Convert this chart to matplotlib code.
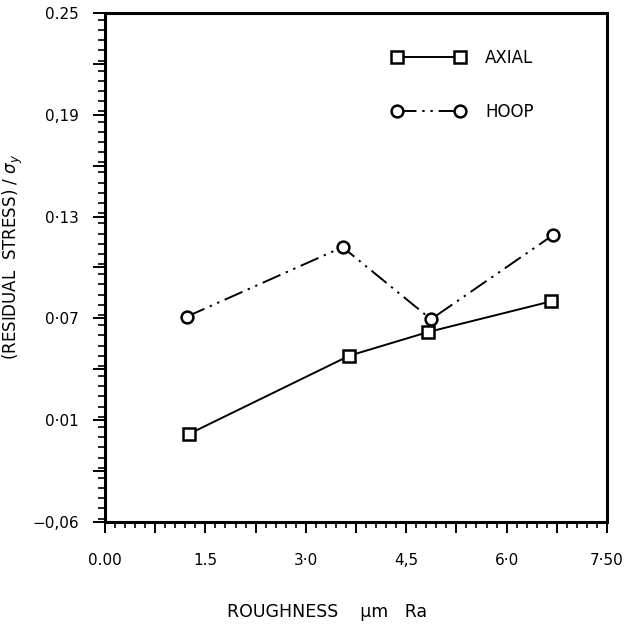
import numpy as np
import matplotlib
matplotlib.use("Agg")
import matplotlib.pyplot as plt
from matplotlib.ticker import FixedLocator, FixedFormatter, MultipleLocator

# ---- data ----
axial_x = [1.26, 3.65, 4.83, 6.66]
axial_y = [0.002, 0.048, 0.062, 0.080]
hoop_x = [1.22, 3.55, 4.87, 6.69]
hoop_y = [0.071, 0.112, 0.0695, 0.119]

xtick_values = [0.0, 1.5, 3.0, 4.5, 6.0, 7.5]
xtick_labels = ["0.00", "1.5", "3·0", "4,5", "6·0", "7·50"]
ytick_values = [-0.05, 0.01, 0.07, 0.13, 0.19, 0.25]
ytick_labels = ["\u22120,06", "0·01", "0·07", "0·13", "0,19", "0.25"]

plt.rcParams['font.family'] = ['DejaVu Sans']

fig = plt.figure(figsize=(6.36, 6.26), dpi=100)
ax = fig.add_axes([105/636, 1 - 522/626, 502/636, 509/626])

ms = 8.5
ax.plot(axial_x, axial_y, color='black', lw=1.4, ls='-', marker='s', ms=ms,
        mfc='white', mec='black', mew=1.8, label='AXIAL')
ax.plot(hoop_x, hoop_y, color='black', lw=1.4, ls=(0, (10, 3, 1.2, 3, 1.2, 3)),
        marker='o', ms=ms, mfc='white', mec='black', mew=1.8, label='HOOP')

ax.set_xlim(xtick_values[0], xtick_values[-1])
ax.set_ylim(ytick_values[0], ytick_values[-1])

# x ticks: long every 0.75, labels every 1.5, minor every 0.15
xmaj = np.arange(xtick_values[0], xtick_values[-1] + 1e-9, (xtick_values[1] - xtick_values[0]) / 2)
xlab = [xtick_labels[xtick_values.index(v)] if v in xtick_values else "" for v in np.round(xmaj, 4)]
ax.xaxis.set_major_locator(FixedLocator(xmaj))
ax.xaxis.set_major_formatter(FixedFormatter(xlab))
ax.xaxis.set_minor_locator(MultipleLocator((xtick_values[1] - xtick_values[0]) / 10))

ystep = ytick_values[1] - ytick_values[0]
ymaj = np.arange(ytick_values[0], ytick_values[-1] + 1e-9, ystep / 2)
ylab = []
for v in ymaj:
    m = [l for tv, l in zip(ytick_values, ytick_labels) if abs(tv - v) < 1e-6]
    ylab.append(m[0] if m else "")
ax.yaxis.set_major_locator(FixedLocator(ymaj))
ax.yaxis.set_major_formatter(FixedFormatter(ylab))
ax.yaxis.set_minor_locator(MultipleLocator(ystep / 10))

ax.tick_params(axis='x', which='major', direction='out', length=8, width=1.4,
               labelsize=11, pad=14, top=False)
ax.tick_params(axis='x', which='minor', direction='out', length=4.5, width=1.2, top=False)
ax.tick_params(axis='y', which='major', direction='out', length=9, width=1.4,
               labelsize=11, pad=10, right=False)
ax.tick_params(axis='y', which='minor', direction='out', length=5, width=1.2, right=False)

for sp in ax.spines.values():
    sp.set_linewidth(2.2)

ax.set_xlabel("ROUGHNESS    \u00b5m   Ra", fontsize=12.5)
ax.xaxis.set_label_coords(0.442, -0.16)
ax.set_ylabel(r"(RESIDUAL  STRESS) / $\sigma_y$", fontsize=12)
ax.yaxis.set_label_coords(-0.16, 0.52)

leg = ax.legend(loc='upper left', bbox_to_anchor=(0.572, 0.929), numpoints=2,
                frameon=False, handlelength=4.35, handletextpad=1.24,
                labelspacing=2.17, fontsize=12, borderaxespad=0, borderpad=0)

fig.savefig("out.png", dpi=100)
